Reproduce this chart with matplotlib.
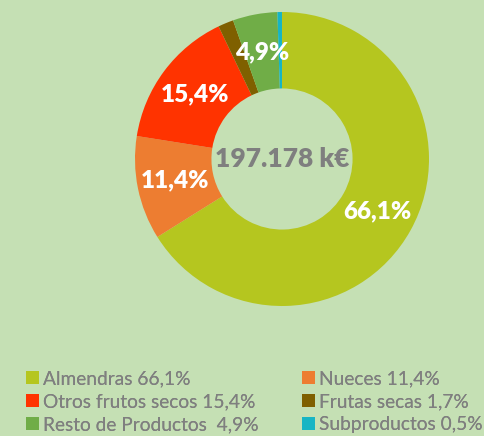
import matplotlib
matplotlib.use("Agg")
import matplotlib.pyplot as plt
from matplotlib.patches import Patch
import numpy as np

categories = ["Almendras", "Nueces", "Otros frutos secos", "Frutas secas", "Resto de Productos", "Subproductos"]
values = [66.1, 11.4, 15.4, 1.7, 4.9, 0.5]
legend_labels = ["Almendras 66,1%", "Nueces 11,4%", "Otros frutos secos 15,4%",
                 "Frutas secas 1,7%", "Resto de Productos  4,9%", "Subproductos 0,5%"]
shown_labels = ["66,1%", "11,4%", "15,4%", "", "4,9%", ""]
center_text = "197.178 k€"
colors = ["#b5c61f", "#ed7d31", "#ff3300", "#7f6000", "#70ad47", "#17b5c4"]
bg = "#c5e0b4"

plt.rcParams['font.family'] = ['Lato', 'DejaVu Sans']

W, H = 485, 436
fig = plt.figure(figsize=(W / 100, H / 100), dpi=100)
fig.patch.set_facecolor(bg)
ax = fig.add_axes([135/W, (H-306)/H, 294/W, 294/H])
ax.set_facecolor(bg)
wedges, _ = ax.pie(values, colors=colors, startangle=90, counterclock=False,
                   radius=1, wedgeprops=dict(width=0.52, linewidth=0))
cum = np.cumsum([0] + values[:-1])
total = sum(values)
for start, v, lab in zip(cum, values, shown_labels):
    if not lab:
        continue
    ang = np.deg2rad(90 - (start + v / 2) / total * 360)
    r = 0.74
    ax.text(r * np.cos(ang), r * np.sin(ang), lab, ha="center", va="center",
            color="white", fontsize=17.5, fontweight="heavy")
ax.text(0, 0, center_text, ha="center", va="center", color="#7f7f7f",
        fontsize=19, fontweight="heavy")
ax.set_xlim(-1, 1)
ax.set_ylim(-1, 1)
ax.set_aspect("equal")

handles = [Patch(facecolor=c, edgecolor="none") for c in colors]
fs = 13.8
common = dict(loc="upper left", frameon=False, fontsize=fs, handlelength=0.68,
              handleheight=0.68, handletextpad=0.2, labelspacing=0.32,
              borderpad=0, borderaxespad=0, labelcolor="#7f7f7f")
for col, x0 in ((0, 26), (1, 302)):
    idx = [col, col + 2, col + 4]
    leg = fig.legend([handles[i] for i in idx], [legend_labels[i] for i in idx],
                     bbox_to_anchor=(x0 / W, (H - 370) / H), **common)
    fig.add_artist(leg)
fig.savefig("out.png", dpi=100, facecolor=bg)
